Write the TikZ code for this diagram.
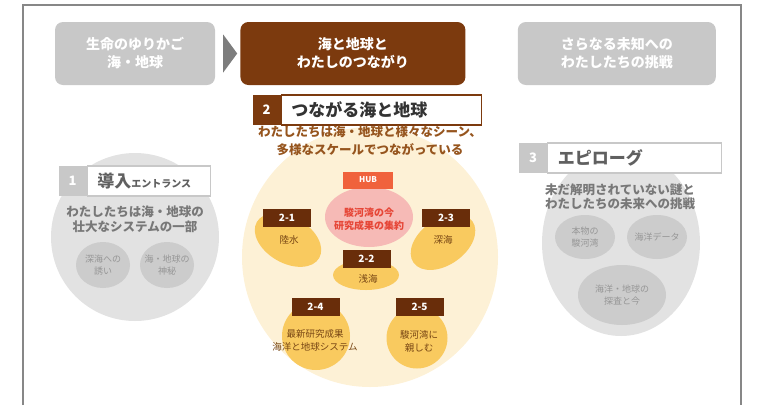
\documentclass[tikz,border=0pt]{standalone}
\usepackage{fontspec}
\setmainfont{Noto Sans CJK JP}
\usepackage{tikz}
\usetikzlibrary{positioning}
\usetikzlibrary{shapes.geometric}
\usetikzlibrary{calc}
\definecolor{framegray}{RGB}{135,135,135}
\definecolor{boxgray}{RGB}{200,200,200}
\definecolor{arrowgray}{RGB}{125,125,125}
\definecolor{darkbrown}{RGB}{124,58,14}
\definecolor{tagbrown}{RGB}{105,45,10}
\definecolor{subbrown}{RGB}{150,85,30}
\definecolor{cream}{RGB}{253,241,214}
\definecolor{blobyellow}{RGB}{249,202,95}
\definecolor{hubred}{RGB}{240,98,60}
\definecolor{hubpink}{RGB}{246,186,182}
\definecolor{hubtext}{RGB}{230,70,55}
\definecolor{palegray}{RGB}{226,226,226}
\definecolor{midgray}{RGB}{204,204,204}
\definecolor{textgray}{RGB}{120,120,120}
\definecolor{softgray}{RGB}{150,150,150}
\definecolor{blobtext}{RGB}{120,70,20}

\begin{document}
\begin{tikzpicture}[
            x = 1pt, y = -1pt, % pixel grid
            inner sep = 0pt,
            node distance = 0pt
        ]

        \tikzstyle{stage}=[
            rectangle,
            rounded corners = 8pt,
            minimum height = 63pt,
            text = white,
            align = center,
            font = \fontsize{14}{18}\selectfont\bfseries
        ]
        \tikzstyle{num}=[
            rectangle,
            text = white,
            minimum width = 28pt,
            minimum height = 30pt,
            font = \fontsize{13}{13}\selectfont\bfseries
        ]
        \tikzstyle{head}=[
            rectangle,
            fill = white,
            line width = 1.2pt,
            minimum height = 30pt,
            inner xsep = 10pt,
            align = left,
            font = \fontsize{17}{17}\selectfont\bfseries
        ]
        \tikzstyle{tag}=[
            rectangle,
            fill = tagbrown,
            text = white,
            minimum width = 48pt,
            minimum height = 18pt,
            font = \fontsize{10}{10}\selectfont\bfseries
        ]
        \tikzstyle{blob}=[ellipse, fill = blobyellow]
        \tikzstyle{blobtxt}=[align = center, text = blobtext, font = \fontsize{9.5}{13}\selectfont]
        \tikzstyle{ball}=[ellipse, fill = midgray]
        \tikzstyle{balltxt}=[align = center, text = softgray, font = \fontsize{9}{12}\selectfont]

        \useasboundingbox (0,0) rectangle (760,405);

        % frame
        \draw[framegray, line width = 2.5pt] (23,405) -- (23,5) -- (741,5) -- (741,405);

        % top row
        \node[stage, fill = boxgray, minimum width = 160pt] (T1) at (135,53.5) {生命のゆりかご\\海・地球};
        \node[stage, fill = darkbrown, minimum width = 225pt] (T2) [right = 25pt of T1] {海と地球と\\わたしのつながり};
        \node[stage, fill = boxgray, minimum width = 198pt] (T3) [right = 52pt of T2] {さらなる未知への\\わたしたちの挑戦};

        \fill[arrowgray] ($(T1.east)+(8,-19)$) -- ($(T1.east)+(22,0)$) -- ($(T1.east)+(8,19)$) -- cycle;

        % part 1
        \node[circle, fill = palegray, minimum size = 168pt] (G1) at (135,237) {};
        \node[num, fill = boxgray] (N1) at (72.5,181) {1};
        \node[head, draw = boxgray, text = textgray!80!black, minimum width = 123pt, text width = 103pt, right = 0pt of N1] (H1) {導入{\fontsize{10}{10}\selectfont エントランス}};
        \node[align = center, text = textgray, font = \fontsize{12.5}{14.5}\selectfont\bfseries] (D1) at (135,219) {わたしたちは海・地球の\\壮大なシステムの一部};
        \node[ball, minimum width = 54pt, minimum height = 46pt] (L1) at (103,265) {};
        \node[balltxt] (L1t) at (L1) {深海への\\誘い};
        \node[ball, minimum width = 54pt, minimum height = 46pt] (L2) at (167,265) {};
        \node[balltxt] (L2t) at (L2) {海・地球の\\神秘};

        % part 2
        \node[ellipse, fill = cream, minimum width = 256pt, minimum height = 260pt] (C2) at (370,257) {};
        \node[num, fill = darkbrown] (N2) at (266.5,110) {2};
        \node[head, draw = darkbrown, text = black!80, minimum width = 200pt, text width = 180pt, right = 0pt of N2] (H2) {つながる海と地球};
        \node[align = center, text = subbrown, font = \fontsize{12.5}{18}\selectfont\bfseries] (D2) at (370,141) {わたしたちは海・地球と様々なシーン、\\多様なスケールでつながっている};

        \node[ellipse, fill = hubpink, minimum width = 88pt, minimum height = 60pt] (P) at (369,217) {};
        \node[tag, fill = hubred, minimum width = 50pt, minimum height = 17pt, font = \fontsize{8}{8}\selectfont\bfseries] (HUB) at (368,180) {HUB};
        \node[align = center, text = hubtext, font = \fontsize{10}{13}\selectfont\bfseries] (Pt) at (369,219) {駿河湾の今\\研究成果の集約};

        \node[blob, minimum width = 72pt, minimum height = 46pt, rotate = -30] (B1) at (288,240) {};
        \node[tag] (K1) at (287,217.5) {2-1};
        \node[blobtxt] (B1t) at (289,240) {陸水};

        \node[blob, minimum width = 72pt, minimum height = 46pt, rotate = 35] (B3) at (443,242) {};
        \node[tag] (K3) at (446,217.5) {2-3};
        \node[blobtxt] (B3t) at (443,240) {深海};

        \node[blob, minimum width = 66pt, minimum height = 30pt] (B2) at (366,275) {};
        \node[tag] (K2) at (366.5,259) {2-2};
        \node[blobtxt] (B2t) at (368,279) {浅海};

        \node[blob, circle, minimum size = 68pt] (B4) at (316,336) {};
        \node[tag] (K4) at (315.5,306.5) {2-4};
        \node[blobtxt] (B4t) at (315,340) {最新研究成果\\海洋と地球システム};

        \node[blob, circle, minimum size = 61pt] (B5) at (417,338) {};
        \node[tag] (K5) at (419.5,306.5) {2-5};
        \node[blobtxt] (B5t) at (419,341) {駿河湾に\\親しむ};

        % part 3
        \node[ellipse, fill = palegray, minimum width = 158pt, minimum height = 186pt] (G3) at (621,243) {};
        \node[num, fill = boxgray] (N3) at (533,158) {3};
        \node[head, draw = boxgray, text = textgray!80!black, minimum width = 174pt, text width = 154pt, right = 0pt of N3] (H3) {エピローグ};
        \node[align = center, text = textgray, font = \fontsize{12.5}{14.5}\selectfont\bfseries] (D3) at (620,197) {未だ解明されていない謎と\\わたしたちの未来への挑戦};
        \node[ball, minimum width = 60pt, minimum height = 44pt] (R1) at (585,237) {};
        \node[balltxt] (R1t) at (R1) {本物の\\駿河湾};
        \node[ball, minimum width = 60pt, minimum height = 44pt] (R2) at (657,237) {};
        \node[balltxt] (R2t) at (R2) {海洋データ};
        \node[ball, minimum width = 88pt, minimum height = 60pt] (R3) at (622,295) {};
        \node[balltxt] (R3t) at (R3) {海洋・地球の\\探査と今};

\end{tikzpicture}
\end{document}
